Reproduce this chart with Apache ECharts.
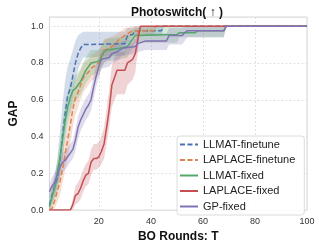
<!DOCTYPE html>
<html><head><meta charset="utf-8">
<script src="https://cdn.jsdelivr.net/npm/echarts@6/dist/echarts.min.js"></script>
<style>html,body{margin:0;padding:0;background:#fff}#c{width:319px;height:248px}</style>
</head><body><div id="c"></div>
<script>
const seriesNames = ['LLMAT-finetune','LAPLACE-finetune','LLMAT-fixed','LAPLACE-fixed','GP-fixed'];
const xTickLabels = [20,40,60,80,100];
const yTickLabels = [0,0.2,0.4,0.6,0.8,1.0];

const llmatFtT  = [1,2,3,4,5,6,7,8,9,10,11,12,13,14,30,31,33,34,44,45,100];
const llmatFtV  = [0.03,0.08,0.13,0.17,0.27,0.40,0.52,0.62,0.66,0.73,0.80,0.85,0.88,0.90,0.905,0.95,0.955,0.975,0.975,1.0,1.0];
const llmatFtLo = [0.0,0.03,0.07,0.10,0.17,0.28,0.40,0.50,0.55,0.62,0.70,0.76,0.80,0.83,0.84,0.91,0.92,0.95,0.95,1.0,1.0];
const llmatFtHi = [0.07,0.13,0.19,0.27,0.42,0.57,0.70,0.78,0.82,0.87,0.92,0.95,0.96,0.97,0.97,0.99,0.99,1.0,1.0,1.0,1.0];

const lapFtT  = [1,2,3,4,5,6,7,8,9,10,11,12,13,14,16,17,18,20,21,22,24,26,28,30,33,41,42,100];
const lapFtV  = [0,0.01,0.05,0.10,0.15,0.22,0.30,0.38,0.46,0.55,0.61,0.64,0.68,0.72,0.75,0.77,0.78,0.80,0.84,0.87,0.88,0.90,0.93,0.95,0.975,0.975,1.0,1.0];
const lapFtLo = [0,0,0.01,0.04,0.08,0.14,0.21,0.29,0.36,0.45,0.52,0.56,0.60,0.64,0.68,0.70,0.71,0.73,0.77,0.80,0.82,0.85,0.88,0.91,0.95,0.95,1.0,1.0];
const lapFtHi = [0.02,0.04,0.10,0.17,0.23,0.31,0.39,0.48,0.56,0.64,0.70,0.73,0.76,0.80,0.82,0.84,0.85,0.87,0.90,0.93,0.94,0.95,0.97,0.99,1.0,1.0,1.0,1.0];

const llmatFxT  = [1,2,3,4,5,6,7,8,9,10,11,12,13,14,15,16,17,20,21,22,23,28,31,32,33,34,50,51,57,58,68,69,100];
const llmatFxV  = [0.02,0.07,0.12,0.20,0.28,0.38,0.48,0.56,0.61,0.65,0.66,0.68,0.70,0.73,0.76,0.78,0.80,0.81,0.83,0.86,0.87,0.88,0.89,0.91,0.93,0.95,0.955,0.965,0.965,0.975,0.975,1.0,1.0];
const llmatFxLo = [0,0.03,0.07,0.13,0.20,0.29,0.38,0.47,0.53,0.57,0.59,0.61,0.63,0.66,0.69,0.71,0.73,0.75,0.77,0.80,0.81,0.82,0.83,0.86,0.88,0.91,0.91,0.94,0.94,0.94,0.94,1.0,1.0];
const llmatFxHi = [0.05,0.12,0.18,0.27,0.36,0.47,0.57,0.64,0.69,0.72,0.73,0.75,0.77,0.80,0.83,0.85,0.87,0.87,0.89,0.92,0.93,0.94,0.95,0.96,0.98,0.99,1.0,1.0,1.0,1.0,1.0,1.0,1.0];

const lapFxT  = [1,9,10,11,12,13,14,15,16,17,18,19,20,21,22,23,24,25,26,27,30,31,33,34,35,36,100];
const lapFxV  = [0,0,0.03,0.08,0.09,0.12,0.16,0.19,0.20,0.26,0.28,0.28,0.29,0.32,0.36,0.45,0.55,0.68,0.72,0.76,0.76,0.80,0.82,0.85,0.93,1.0,1.0];
const lapFxLo = [0,0,0,0.03,0.04,0.06,0.10,0.13,0.14,0.19,0.22,0.22,0.23,0.25,0.28,0.36,0.45,0.56,0.60,0.63,0.63,0.68,0.71,0.75,0.86,1.0,1.0];
const lapFxHi = [0,0,0.06,0.13,0.15,0.18,0.22,0.25,0.27,0.33,0.36,0.36,0.37,0.40,0.45,0.55,0.66,0.79,0.83,0.86,0.86,0.90,0.91,0.94,0.98,1.0,1.0];

const gpT  = [1,2,3,4,5,6,7,8,9,10,11,12,13,14,15,16,17,18,19,20,21,24,25,27,29,34,35,38,46,47,52,53,54,68,69,100];
const gpV  = [0.10,0.13,0.15,0.19,0.23,0.26,0.27,0.29,0.31,0.33,0.38,0.45,0.49,0.52,0.55,0.57,0.60,0.67,0.73,0.78,0.82,0.83,0.85,0.86,0.88,0.89,0.905,0.92,0.92,0.95,0.95,0.965,0.975,0.975,1.0,1.0];
const gpLo = [0.06,0.08,0.10,0.14,0.18,0.21,0.22,0.24,0.26,0.28,0.32,0.39,0.43,0.46,0.49,0.51,0.54,0.61,0.67,0.72,0.77,0.78,0.80,0.81,0.84,0.85,0.86,0.87,0.87,0.90,0.90,0.92,0.94,0.94,1.0,1.0];
const gpHi = [0.14,0.18,0.20,0.24,0.28,0.31,0.32,0.34,0.36,0.38,0.44,0.51,0.55,0.58,0.61,0.63,0.66,0.73,0.79,0.84,0.87,0.88,0.90,0.91,0.92,0.93,0.95,0.96,0.96,0.99,0.99,1.0,1.0,1.0,1.0,1.0];

const colors = ['#4C72B0','#DD8452','#55A868','#C44E52','#8172B3'];
const dashed = [true,true,false,false,false];
const allT  = [llmatFtT, lapFtT, llmatFxT, lapFxT, gpT];
const allV  = [llmatFtV, lapFtV, llmatFxV, lapFxV, gpV];
const allLo = [llmatFtLo, lapFtLo, llmatFxLo, lapFxLo, gpLo];
const allHi = [llmatFtHi, lapFtHi, llmatFxHi, lapFxHi, gpHi];

const FONT = 'Liberation Sans, Arial, Helvetica, sans-serif';
const series = [];
for (let k = 0; k < 5; k++) {
  const xs = allT[k], lo = allLo[k], hi = allHi[k], col = colors[k];
  series.push({
    type: 'custom', name: 'band' + k, silent: true, z: 1,
    data: [[xs[0], lo[0]]],
    renderItem: function (params, api) {
      const pts = [];
      for (let i = 0; i < xs.length; i++) pts.push(api.coord([xs[i], hi[i]]));
      for (let i = xs.length - 1; i >= 0; i--) pts.push(api.coord([xs[i], lo[i]]));
      return { type: 'polygon', shape: { points: pts }, style: { fill: col, opacity: 0.25 } };
    }
  });
}
for (let k = 0; k < 5; k++) {
  series.push({
    type: 'line', name: seriesNames[k], z: 3, symbol: 'none', silent: true,
    data: allT[k].map((t, i) => [t, allV[k][i]]),
    lineStyle: { color: colors[k], width: 1.5, type: dashed[k] ? [5, 2.5] : 'solid' },
    itemStyle: { color: colors[k] }
  });
}

const chart = echarts.init(document.getElementById('c'), null, { renderer: 'canvas' });
chart.setOption({
  animation: false,
  backgroundColor: '#fff',
  title: { text: 'Photoswitch( ↑ )', left: 172, top: 2, textAlign: 'center',
    textStyle: { fontFamily: FONT, fontSize: 12, fontWeight: 'bold', color: '#111' } },
  grid: { left: 36, right: 12, top: 17, bottom: 33, show: true, borderColor: '#d6d6d6', borderWidth: 1 },
  xAxis: {
    type: 'value', min: 1, max: 100,
    name: 'BO Rounds: T', nameLocation: 'middle', nameGap: 16,
    nameTextStyle: { fontFamily: FONT, fontSize: 12, fontWeight: 'bold', color: '#111' },
    axisLine: { show: false }, axisTick: { show: false, customValues: xTickLabels },
    axisLabel: { customValues: xTickLabels, fontFamily: FONT, fontSize: 9, color: '#333', margin: 7 },
    splitLine: { show: true, customValues: xTickLabels, lineStyle: { color: '#e2e2e2', type: [2, 2], width: 1 } }
  },
  yAxis: {
    type: 'value', min: 0, max: 1.05, interval: 0.2,
    name: 'GAP', nameLocation: 'middle', nameGap: 28,
    nameTextStyle: { fontFamily: FONT, fontSize: 12, fontWeight: 'bold', color: '#111' },
    axisLine: { show: false }, axisTick: { show: false },
    axisLabel: { fontFamily: FONT, fontSize: 9, color: '#333', margin: 6,
      formatter: v => (yTickLabels.indexOf(+v.toFixed(1)) >= 0 ? v.toFixed(1) : '') },
    splitLine: { show: true, lineStyle: { color: '#e2e2e2', type: [2, 2], width: 1 } }
  },
  legend: {
    data: seriesNames, orient: 'vertical', left: 177, top: 136,
    itemWidth: 18, itemHeight: 10, itemGap: 4.5,
    padding: [3, 9, 3, 2],
    backgroundColor: 'rgba(255,255,255,0.85)', borderColor: '#dcdcdc', borderWidth: 1, borderRadius: 3,
    textStyle: { fontFamily: FONT, fontSize: 11, color: '#222', padding: [0, 0, 0, 0] },
    itemStyle: { opacity: 0 }
  },
  series: series
});
</script></body></html>
